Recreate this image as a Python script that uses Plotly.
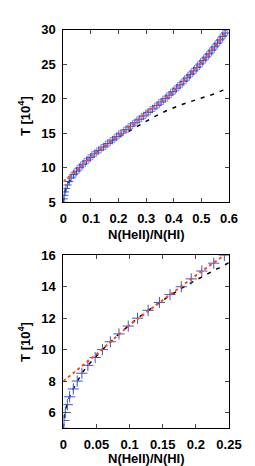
import plotly.graph_objects as go

# ---- data (T in units of 10^4 K vs N(HeII)/N(HI)) ----
T_pts = [5.0, 5.5, 6.0, 6.5, 7.0, 7.5, 8.0, 8.5, 9.0, 9.5, 10.0, 10.5, 11.0, 11.5,
         12.0, 12.5, 13.0, 13.5, 14.0, 14.5, 15.0, 15.5, 16.0, 16.5, 17.0, 17.5,
         18.0, 18.5, 19.0, 19.5, 20.0, 20.5, 21.0, 21.5, 22.0, 22.5, 23.0, 23.5,
         24.0, 24.5, 25.0, 25.5, 26.0, 26.5, 27.0, 27.5, 28.0, 28.5, 29.0, 29.5]
x_pts = [0.0, 0.001, 0.003, 0.006, 0.0095, 0.015, 0.021, 0.028, 0.037, 0.048,
         0.059, 0.071, 0.084, 0.098, 0.112, 0.128, 0.145, 0.161, 0.178, 0.193,
         0.209, 0.227, 0.243, 0.259, 0.275, 0.291, 0.307, 0.323, 0.339, 0.354,
         0.369, 0.383, 0.397, 0.410, 0.423, 0.436, 0.448, 0.460, 0.472, 0.484,
         0.495, 0.506, 0.517, 0.528, 0.538, 0.548, 0.558, 0.568, 0.577, 0.586]

# squares shown from T = 9 upward in the upper panel
sq_start = 8

fit_x = [0.0, 0.05, 0.1, 0.15, 0.2, 0.25, 0.3, 0.35, 0.4, 0.45, 0.5, 0.55, 0.586]
fit_T = [8.0, 9.7, 11.57, 13.15, 14.72, 16.22, 17.97, 19.37, 21.1, 23.08, 25.23, 27.6, 29.5]

dash_x = [0.0, 0.002, 0.0055, 0.0095, 0.015, 0.021, 0.028, 0.037, 0.048, 0.059,
          0.084, 0.112, 0.145, 0.18, 0.21, 0.236, 0.286, 0.33, 0.376, 0.43,
          0.489, 0.54, 0.584]
dash_T = [5.0, 6.0, 6.5, 7.0, 7.5, 8.0, 8.5, 9.0, 9.5, 10.0, 11.0, 12.0, 13.0,
          13.95, 14.65, 15.25, 16.45, 17.4, 18.3, 19.15, 19.95, 20.6, 21.3]

top_xticks = [0, 0.1, 0.2, 0.3, 0.4, 0.5, 0.6]
top_xlabels = ["0", "0.1", "0.2", "0.3", "0.4", "0.5", "0.6"]
top_yticks = [5, 10, 15, 20, 25, 30]
bot_xticks = [0, 0.05, 0.1, 0.15, 0.2, 0.25]
bot_xlabels = ["0", "0.05", "0.1", "0.15", "0.2", "0.25"]
bot_yticks = [6, 8, 10, 12, 14, 16]

W, H = 255, 466
xl, xr = 55, 232.5
top_t, top_b = 15, 193.5
bot_t, bot_b = 248.3, 427

fig = go.Figure()

for xa, ya, top in [("x", "y", True), ("x2", "y2", False)]:
    fig.add_trace(go.Scatter(x=dash_x, y=dash_T, mode="lines",
                             line=dict(color="black", width=1.5, dash="4px,6px"),
                             xaxis=xa, yaxis=ya, showlegend=False))
    if top:
        fig.add_trace(go.Scatter(x=x_pts[sq_start:], y=T_pts[sq_start:], mode="markers",
                                 marker=dict(symbol="square", size=5,
                                             color="rgba(200,200,255,0.45)",
                                             line=dict(color="#7575f0", width=0.8)),
                                 xaxis=xa, yaxis=ya, showlegend=False))
    fig.add_trace(go.Scatter(x=x_pts, y=T_pts, mode="markers",
                             marker=dict(symbol="cross-thin", size=6 if top else 8,
                                         line=dict(color="#3048c8" if top else "#3a55d0",
                                                   width=0.9 if top else 1)),
                             xaxis=xa, yaxis=ya, showlegend=False))
    fig.add_trace(go.Scatter(x=fit_x, y=fit_T, mode="lines",
                             line=dict(color="#ff4a10", width=2, dash="dot"),
                             xaxis=xa, yaxis=ya, showlegend=False))

FS = 13
axcommon = dict(showline=True, linecolor="black", linewidth=1, mirror="ticks",
                ticks="inside", ticklen=4, tickcolor="#444", showgrid=False,
                zeroline=False, tickfont=dict(family="Liberation Sans", size=FS,
                                              color="black"))

def b(lst):
    return ["<b>%s</b>" % s for s in lst]

fig.update_layout(
    width=W, height=H, margin=dict(l=0, r=0, t=0, b=0),
    plot_bgcolor="white", paper_bgcolor="white",
    font=dict(family="Liberation Sans", size=FS, color="black"),
    xaxis=dict(domain=[xl / W, xr / W], range=[0, 0.6], tickvals=top_xticks,
               ticktext=b(top_xlabels), anchor="y", ticklabelstandoff=4, **axcommon),
    yaxis=dict(domain=[1 - top_b / H, 1 - top_t / H], range=[5, 30], tickvals=top_yticks,
               ticktext=b([str(v) for v in top_yticks]),
               anchor="x", ticklabelstandoff=4, **axcommon),
    xaxis2=dict(domain=[xl / W, xr / W], range=[0, 0.25], tickvals=bot_xticks,
                ticktext=b(bot_xlabels), anchor="y2", ticklabelstandoff=4, **axcommon),
    yaxis2=dict(domain=[1 - bot_b / H, 1 - bot_t / H], range=[5, 16], tickvals=bot_yticks,
                ticktext=b([str(v) for v in bot_yticks]),
                anchor="x2", ticklabelstandoff=4, **axcommon),
)

tfont = dict(family="Liberation Sans", size=FS, color="black")
ann = [
    dict(text="<b>N(HeII)/N(HI)</b>", x=(xl + xr) / 2 / W, y=1 - 226.5 / H),
    dict(text="<b>N(HeII)/N(HI)</b>", x=(xl + xr) / 2 / W, y=1 - 458.5 / H),
    dict(text="<b>T [10<sup>4</sup>]</b>", x=13 / W, y=1 - (top_t + top_b) / 2 / H, textangle=-90),
    dict(text="<b>T [10<sup>4</sup>]</b>", x=13 / W, y=1 - (bot_t + bot_b) / 2 / H, textangle=-90),
]
for a in ann:
    fig.add_annotation(xref="paper", yref="paper", showarrow=False, font=tfont,
                       xanchor="center", yanchor="middle", **a)

fig.write_html("out.html")
